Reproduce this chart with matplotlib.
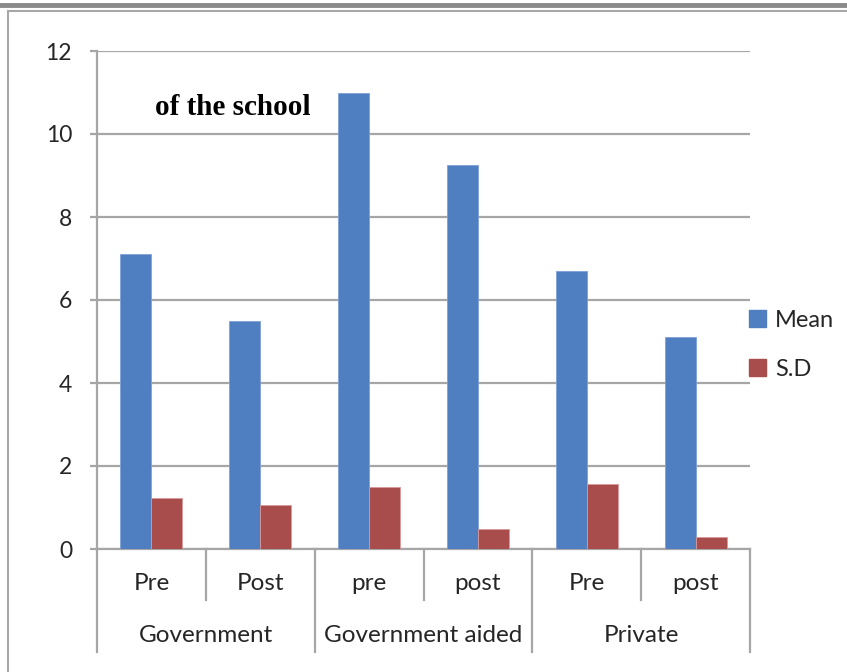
import numpy as np
import matplotlib.pyplot as plt
from matplotlib.lines import Line2D
from matplotlib.patches import Patch
import matplotlib.transforms as mtransforms

plt.rcParams['font.family'] = ['Lato', 'DejaVu Sans']

groups = ['Government', 'Government aided', 'Private']
subcats = ['Pre', 'Post', 'pre', 'post', 'Pre', 'post']
mean = [7.12, 5.5, 11.0, 9.25, 6.7, 5.1]
sd = [1.24, 1.05, 1.5, 0.48, 1.57, 0.3]

blue = '#4F7EC1'
red = '#A84C4C'
grid_col = '#A6A6A6'
text_col = '#262626'

W, H = 847, 672
fig = plt.figure(figsize=(W / 100, H / 100), dpi=100)
ax = fig.add_axes([97 / W, 123 / H, 653 / W, 498 / H])

x = np.arange(len(subcats)) + 0.5
bw = 0.285
ax.bar(x - bw / 2, mean, bw, color=blue, edgecolor='#7fa0d6', linewidth=0.6, zorder=3, label='Mean')
ax.bar(x + bw / 2, sd, bw, color=red, edgecolor='#d99a9a', linewidth=0.6, zorder=3, label='S.D')

ax.set_xlim(0, len(subcats))
ax.set_ylim(0, 12)
ax.set_yticks(range(0, 13, 2))
ax.yaxis.grid(True, color=grid_col, linewidth=1.6, zorder=0)
ax.set_xticks([])
for s in ['top', 'right']:
    ax.spines[s].set_visible(False)
ax.spines['left'].set_color(grid_col)
ax.spines['left'].set_linewidth(1.6)
ax.spines['bottom'].set_color(grid_col)
ax.spines['bottom'].set_linewidth(1.6)
ax.tick_params(axis='y', length=5, width=1.6, color=grid_col, pad=13,
               labelsize=16.5, labelcolor=text_col)

# category axis: two-level labels with divider lines
trans = mtransforms.blended_transform_factory(ax.transData, ax.transAxes)
for i in range(len(subcats) + 1):
    bottom = -0.207 if i % 2 == 0 else -0.102
    ax.plot([i, i], [0, bottom], transform=trans, color=grid_col, lw=1.6, clip_on=False)
for xi, lab in zip(x, subcats):
    ax.text(xi, -0.070, lab, transform=trans, ha='center', va='center',
            fontsize=17.5, color=text_col)
for gi, g in enumerate(groups):
    ax.text(2 * gi + 1, -0.173, g, transform=trans, ha='center', va='center',
            fontsize=17.5, color=text_col)

ax.text(0.089, 0.886, 'of the school', transform=ax.transAxes, family='Liberation Serif',
        fontweight='bold', fontsize=21, color='black', ha='left', va='center')

handles = [Patch(color=blue), Patch(color=red)]
ax.legend(handles, ['Mean', 'S.D'], loc='center left', bbox_to_anchor=(0.966, 0.41),
          frameon=False, handlelength=0.7, handleheight=0.7, handletextpad=0.4,
          labelspacing=1.2, fontsize=17, labelcolor=text_col)

# outer frame lines
fig.add_artist(Line2D([0, 1], [1 - 5 / H, 1 - 5 / H], transform=fig.transFigure,
                      color='#8a8a8a', lw=3.5))
fig.add_artist(Line2D([8 / W, 1], [1 - 10.5 / H, 1 - 10.5 / H], transform=fig.transFigure,
                      color='#a8a8a8', lw=1.5))
fig.add_artist(Line2D([8 / W, 8 / W], [0, 1 - 10.5 / H], transform=fig.transFigure,
                      color='#a8a8a8', lw=1.5))

fig.savefig('out.png', dpi=100)
